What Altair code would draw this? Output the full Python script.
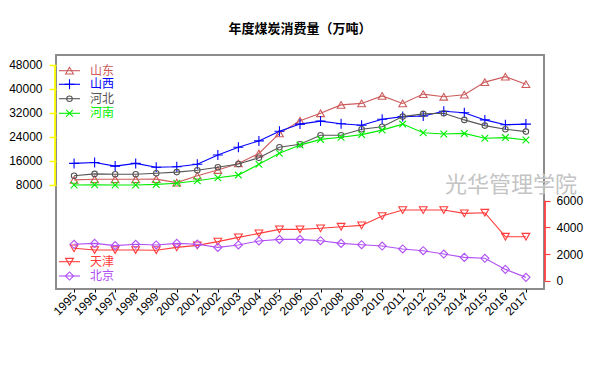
import altair as alt
import pandas as pd

years = list(range(1995, 2018))

shandong = [9700, 9900, 9900, 9900, 9950, 8800, 11100, 13000, 15200, 18500, 25200, 29400,
            31900, 34700, 35200, 37700, 35200, 38300, 37400, 38100, 42300, 44100, 41600]
shanxi = [15200, 15500, 14300, 15200, 13900, 14100, 14900, 18000, 20600, 22700, 25900, 28300,
          29300, 28400, 27900, 29900, 30800, 31000, 32600, 32100, 29700, 28100, 28300]
hebei = [11100, 11700, 11600, 11600, 11900, 12300, 12900, 13900, 15000, 17100, 20600, 21600,
         24600, 24600, 26600, 27400, 30800, 31700, 31900, 29700, 27800, 26600, 25800]
henan = [8000, 8100, 8000, 8000, 8200, 8600, 9400, 10400, 11300, 14900, 18600, 21300,
         23200, 23900, 24800, 26300, 28300, 25400, 25000, 25200, 23600, 23800, 23000]
tianjin = [2430, 2300, 2300, 2300, 2290, 2500, 2650, 2930, 3250, 3550, 3850, 3850,
           3930, 4050, 4150, 4850, 5300, 5300, 5300, 5050, 5100, 3300, 3300]
beijing = [2730, 2800, 2630, 2730, 2680, 2800, 2740, 2500, 2680, 2980, 3100, 3100,
           3000, 2800, 2700, 2600, 2380, 2250, 2000, 1750, 1680, 850, 250]

left_names = ["山东", "山西", "河北", "河南"]
right_names = ["天津", "北京"]
left_ticks = [8000, 16000, 24000, 32000, 40000, 48000]
right_ticks = [0, 2000, 4000, 6000]
title_text = "年度煤炭消费量（万吨）"
watermark_text = "光华管理学院"

names = left_names + right_names
colors = ["#CD5C5C", "#0000FF", "#555555", "#00EE00", "#FF3B3B", "#B050F5"]
PLUS = "M-1,0L1,0M0,-1L0,1"
XSHAPE = "M-1,-1L1,1M-1,1L1,-1"
shapes = ["triangle-up", PLUS, "circle", XSHAPE, "triangle-down", "diamond"]
sizes = [60, 100, 30, 45, 60, 65]
style = {n: (c, s, z) for n, c, s, z in zip(names, colors, shapes, sizes)}

series_values = dict(zip(names, [shandong, shanxi, hebei, henan, tianjin, beijing]))
rows = []
for n in names:
    for yr, v in zip(years, series_values[n]):
        rows.append({"series": n, "year": yr, "value": v})
df = pd.DataFrame(rows)
left_df = df[df.series.isin(left_names)]
right_df = df[df.series.isin(right_names)]

FONT = "Liberation Sans"
CJK = "Noto Sans CJK SC"

x_enc = alt.X("year:Q", scale=alt.Scale(domain=[1994.12, 2017.88], nice=False, zero=False),
              axis=alt.Axis(values=years, format="d", labelAngle=315, labelAlign="right",
                            labelBaseline="middle", labelFont=FONT, labelFontSize=12,
                            labelOverlap=False, labelBound=False,
                            labelColor="#000000", tickColor="#000000", tickSize=3,
                            labelPadding=2, domain=False, grid=False, title=None))

yl_scale = alt.Scale(domain=[-26667, 51333], nice=False, zero=False)
yr_scale = alt.Scale(domain=[-622, 16930], nice=False, zero=False)

yl_axis = alt.Axis(orient="left", values=left_ticks, format="d", domain=False,
                   grid=False, tickColor="#FFFF00", tickSize=7, tickWidth=1.5,
                   labelPadding=7, labelFont=FONT, labelFontSize=12, labelOverlap=False,
                   labelColor="#000000", title=None)
yr_axis = alt.Axis(orient="right", values=right_ticks, format="d", domain=False,
                   grid=False, tickColor="#FF4040", tickSize=6, tickWidth=1.2,
                   labelPadding=6, labelFont=FONT, labelFontSize=12, labelOverlap=False,
                   labelColor="#000000", title=None)

def group(data, series_names, y_scale, y_axis, rule_lo, rule_hi, rule_color, rule_x):
    y_enc = alt.Y("value:Q", scale=y_scale, axis=y_axis)
    rule_df = pd.DataFrame({"value": [rule_lo], "value2": [rule_hi]})
    layers = [alt.Chart(rule_df).mark_rule(color=rule_color, strokeWidth=1.8).encode(
        x=alt.value(rule_x), y=y_enc, y2="value2:Q")]
    for n in series_names:
        c, s, z = style[n]
        sub = data[data.series == n]
        layers.append(alt.Chart(sub).mark_line(strokeWidth=1.1, color=c).encode(
            x=x_enc, y=y_enc))
        layers.append(alt.Chart(sub).mark_point(filled=False, strokeWidth=1.1, opacity=1,
                                                color=c, shape=s, size=z).encode(
            x=x_enc, y=y_enc))
    return alt.layer(*layers)

left_group = group(left_df, left_names, yl_scale, yl_axis,
                   left_ticks[0], left_ticks[-1], "#FFFF00", -1)
right_group = group(right_df, right_names, yr_scale, yr_axis,
                    right_ticks[0], right_ticks[-1], "#FF4040", 489)

one = pd.DataFrame({"a": [0]})
legend_y = [15.7, 29.3, 43.7, 58.3, 206.7, 221]
legend_layers = []
for n, ly in zip(names, legend_y):
    c, s, z = style[n]
    legend_layers.append(alt.Chart(one).mark_rule(color=c, strokeWidth=1.1).encode(
        x=alt.value(3), x2=alt.value(24), y=alt.value(ly)))
    legend_layers.append(alt.Chart(one).mark_point(shape=s, color=c, filled=False,
                                                   size=z, strokeWidth=1.1, opacity=1).encode(
        x=alt.value(13.5), y=alt.value(ly)))
    legend_layers.append(alt.Chart(one).mark_text(text=n, color=c, font=CJK, fontSize=12,
                                                  align="left", baseline="middle").encode(
        x=alt.value(34), y=alt.value(ly)))

watermark = alt.Chart(one).mark_text(text=watermark_text, color="#C4C4C4", font=CJK,
                                     fontSize=22, align="center", baseline="middle").encode(
    x=alt.value(455), y=alt.value(130))

chart = alt.layer(left_group, right_group, watermark, *legend_layers).resolve_scale(
    y="independent"
).resolve_axis(
    y="independent"
).properties(
    width=488, height=234,
    title=alt.TitleParams(title_text, anchor="middle", font=CJK, fontSize=13,
                          fontWeight="bold", color="#000000", offset=19, frame="group"),
    autosize=alt.AutoSizeParams(type="none"),
    padding={"left": 48, "top": 47, "right": 48, "bottom": 77},
).configure_view(stroke="#8C8C8C", strokeWidth=2)

chart.save("out.html", embed_options={"renderer": "svg", "actions": False})
